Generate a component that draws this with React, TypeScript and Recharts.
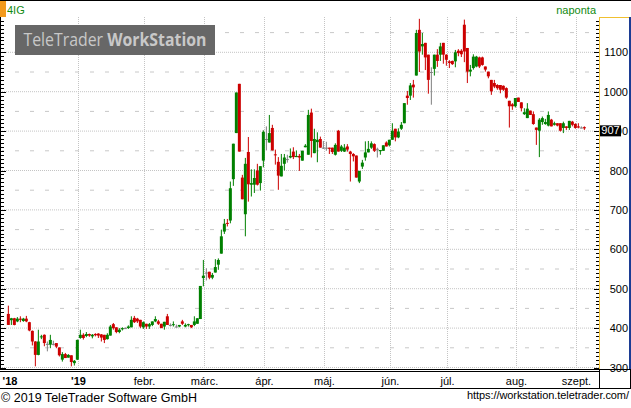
import React from 'react'
import { ComposedChart, Bar, XAxis, YAxis, CartesianGrid } from 'recharts'

// daily OHLC, 4iG, late Nov 2018 .. early Sep 2019
const opens = [
  436, 420, 425, 417, 424, 418, 424, 415, 393, 366, 332, 377, 383, 360, 358, 360, 362, 351, 320, 334,
  325, 331, 311, 320, 375, 383, 380, 385, 379, 385, 386, 384, 383, 372, 381, 410, 402, 390, 397, 400,
  400, 402, 426, 424, 421, 402, 411, 404, 408, 417, 417, 411, 404, 430, 408, 408, 404, 404, 417, 404,
  408, 408, 408, 411, 423, 527, 541, 543, 528, 541, 561, 589, 645, 667, 673, 778, 895, 1020, 782, 689,
  847, 764, 764, 800, 768, 825, 880, 871, 908, 841, 822, 785, 817, 829, 833, 848, 834, 837, 825, 859,
  840, 947, 844, 872, 880, 858, 858, 858, 858, 840, 901, 850, 848, 861, 848, 842, 838, 772, 810, 833,
  846, 858, 867, 855, 849, 850, 871, 864, 878, 906, 884, 906, 920, 990, 990, 1018, 1041, 1157, 1115, 1124,
  1094, 1050, 1058, 1094, 1094, 1124, 1094, 1077, 1078, 1077, 1104, 1104, 1170, 1111, 1051, 1060, 1064, 1087, 1087, 1064,
  1051, 1030, 1022, 1017, 1017, 1015, 1009, 977, 968, 963, 985, 973, 943, 933, 952, 943, 909, 901, 923, 918,
  914, 929, 916, 920, 920, 908, 912, 908, 924, 918, 912, 909, 910,
]
const highs = [
  457, 426, 426, 428, 430, 426, 431, 416, 394, 367, 396, 383, 384, 366, 383, 368, 362, 351, 339, 337,
  334, 331, 319, 371, 396, 387, 390, 386, 385, 387, 387, 385, 383, 387, 408, 413, 402, 400, 402, 402,
  407, 430, 431, 426, 421, 417, 411, 413, 417, 430, 421, 411, 416, 436, 412, 417, 409, 408, 421, 412,
  411, 408, 430, 425, 507, 573, 552, 543, 540, 575, 577, 650, 677, 677, 772, 868, 998, 1020, 789, 832,
  885, 803, 803, 817, 811, 902, 912, 941, 916, 853, 834, 842, 842, 840, 856, 859, 851, 842, 850, 867,
  954, 957, 906, 897, 886, 875, 873, 858, 858, 869, 903, 865, 867, 867, 850, 844, 838, 799, 827, 874,
  875, 874, 869, 858, 852, 864, 874, 878, 920, 906, 907, 923, 971, 1002, 1022, 1030, 1157, 1185, 1149, 1124,
  1094, 1062, 1094, 1108, 1124, 1124, 1095, 1080, 1079, 1106, 1108, 1108, 1183, 1111, 1068, 1095, 1091, 1089, 1089, 1064,
  1051, 1030, 1030, 1019, 1017, 1016, 1011, 977, 971, 984, 985, 973, 958, 971, 952, 950, 909, 933, 937, 931,
  950, 931, 924, 920, 920, 924, 912, 926, 926, 920, 920, 912, 912,
]
const lows = [
  408, 408, 407, 415, 415, 416, 415, 392, 356, 303, 331, 372, 354, 341, 349, 356, 349, 328, 315, 324,
  325, 303, 305, 319, 373, 371, 377, 378, 374, 379, 375, 366, 362, 371, 381, 396, 387, 387, 394, 398,
  398, 402, 413, 413, 400, 398, 398, 398, 405, 415, 408, 400, 396, 408, 404, 404, 401, 402, 408, 402,
  404, 400, 405, 411, 423, 506, 521, 524, 524, 541, 548, 589, 639, 658, 666, 761, 895, 848, 727, 633,
  721, 734, 743, 762, 749, 808, 851, 871, 851, 815, 751, 785, 800, 820, 831, 829, 834, 799, 825, 859,
  840, 833, 844, 821, 858, 855, 850, 842, 842, 838, 848, 847, 847, 848, 772, 823, 782, 768, 804, 825,
  846, 855, 847, 833, 840, 850, 861, 861, 878, 874, 882, 903, 920, 967, 979, 985, 1041, 1050, 1094, 1055,
  995, 967, 1041, 1063, 1078, 1071, 1066, 1060, 1068, 1062, 1090, 1088, 1075, 1022, 1039, 1056, 1062, 1060, 1066, 1051,
  1034, 992, 1009, 1005, 996, 1002, 982, 909, 954, 960, 974, 950, 941, 933, 941, 916, 865, 834, 916, 916,
  912, 912, 914, 912, 899, 895, 903, 903, 912, 906, 907, 907, 903,
]
const closes = [
  408, 425, 408, 424, 421, 424, 417, 394, 366, 332, 366, 379, 362, 360, 370, 360, 353, 331, 334, 324,
  332, 314, 317, 370, 383, 375, 385, 381, 383, 382, 381, 376, 370, 383, 404, 400, 390, 396, 400, 400,
  404, 421, 415, 417, 404, 415, 404, 410, 417, 423, 411, 400, 416, 408, 408, 410, 404, 408, 411, 408,
  410, 402, 417, 425, 507, 533, 541, 528, 535, 555, 573, 633, 665, 665, 755, 868, 998, 848, 727, 817,
  765, 768, 781, 764, 811, 898, 880, 895, 851, 839, 787, 812, 833, 829, 837, 834, 837, 833, 850, 863,
  941, 875, 880, 878, 858, 858, 858, 855, 847, 865, 848, 861, 858, 853, 842, 836, 782, 799, 820, 846,
  855, 869, 850, 855, 852, 864, 861, 878, 901, 884, 899, 916, 971, 984, 1016, 1011, 1149, 1102, 1121, 1087,
  1030, 1050, 1094, 1078, 1115, 1094, 1081, 1073, 1070, 1100, 1098, 1095, 1102, 1051, 1056, 1089, 1089, 1064, 1068, 1056,
  1039, 1001, 1013, 1009, 1005, 1005, 985, 963, 963, 984, 974, 958, 948, 957, 941, 918, 903, 929, 933, 923,
  941, 912, 920, 914, 901, 920, 908, 926, 916, 908, 909, 909, 907,
]

// x axis: month boundaries (in trading-day index units) and their labels
const monthTicks = [0.67, 23.33, 45.33, 65.33, 85.33, 105.33, 127.33, 146.33, 169.33, 189.33]
const monthLabels = ["'18", "'19", 'febr.', 'márc.', 'ápr.', 'máj.', 'jún.', 'júl.', 'aug.', 'szept.']
const monthGrid = [23.33, 45.33, 65.33, 85.33, 105.33, 127.33, 146.33, 169.33, 189.33]

// y axis
const priceLabels = [300, 400, 500, 600, 700, 800, 900, 1000, 1100]
const halfLevels = [350, 450, 550, 650, 750, 850, 950, 1050, 1150]
const Y_DOMAIN = [296.2, 1189.6]
const X_DOMAIN = [-2.1667, 196.8333]

const UP = '#008000'
const DOWN = '#cc0000'
const FLAT = '#808080'
const FONT = '"Liberation Sans", Arial, sans-serif'

const lastClose = closes[closes.length - 1]

const yTicks: number[] = []
for (let v = 300; v <= 1180; v += 10) yTicks.push(v)
yTicks.push(lastClose)

const data = opens.map((o, i) => ({
  idx: i,
  open: o,
  high: highs[i],
  low: lows[i],
  close: closes[i],
  range: [lows[i], highs[i]],
}))

function Candle(props: any) {
  const { x, y, width, height, payload } = props
  if (x == null || payload == null) return null
  const top = Math.min(y, y + height)
  const bottom = Math.max(y, y + height)
  const { open, close, high, low } = payload
  const k = high > low ? (bottom - top) / (high - low) : 0
  const py = (v: number) => top + (high - v) * k
  const cx = x + width / 2
  const color = close > open ? UP : close < open ? DOWN : FLAT
  const bt = py(Math.max(open, close))
  const bb = py(Math.min(open, close))
  return (
    <g>
      <rect x={cx - 0.5} y={top} width={1} height={Math.max(bottom - top, 1)} fill={color} />
      <rect x={cx - 1.5} y={bt} width={3} height={Math.max(bb - bt, 1)} fill={color} />
    </g>
  )
}

function PriceTick(props: any) {
  const { y, payload } = props
  const v = payload.value
  if (v === lastClose) {
    return (
      <g>
        <rect x={600} y={y - 3} width={21} height={11} fill="#000" />
        <text x={610.5} y={y + 6} textAnchor="middle" fontFamily={FONT} fontSize={11} fill="#fff">
          {v}
        </text>
      </g>
    )
  }
  const major = v % 100 === 0
  const len = major ? 6 : 4
  return (
    <g>
      <rect x={0} y={Math.round(y)} width={len} height={1} fill="#000" />
      <rect x={600 - len} y={Math.round(y)} width={len} height={1} fill="#000" />
      {major && (
        <text x={628} y={y + 4} textAnchor="end" fontFamily={FONT} fontSize={11} fill="#000">
          {v}
        </text>
      )}
    </g>
  )
}

function MonthTick(props: any) {
  const { x, index } = props
  const label = monthLabels[index]
  const isYear = label.startsWith("'")
  return (
    <text
      x={index === 0 ? 10 : x}
      y={385}
      textAnchor="middle"
      fontFamily={FONT}
      fontSize={11}
      fontWeight={isYear ? 'bold' : 'normal'}
      fill="#000"
    >
      {label}
    </text>
  )
}

export default function App() {
  return (
    <div style={{ position: 'absolute', left: 0, top: 0, width: 631, height: 408, background: '#fff' }}>
      <ComposedChart width={631} height={408} data={data} margin={{ top: 17, right: 0, bottom: 20, left: 2 }}>
        <CartesianGrid
          horizontal
          vertical={false}
          horizontalValues={halfLevels}
          stroke="#c8c8c8"
          strokeDasharray="4 11"
          strokeDashoffset={2}
        />
        <CartesianGrid
          horizontal
          vertical
          horizontalValues={priceLabels}
          verticalValues={monthGrid}
          stroke="#c4c4c4"
          strokeDasharray="1 1"
        />
        <XAxis
          dataKey="idx"
          type="number"
          domain={X_DOMAIN}
          allowDataOverflow
          ticks={monthTicks}
          interval={0}
          tick={<MonthTick />}
          axisLine={false}
          tickLine={false}
          height={19}
        />
        <YAxis
          orientation="right"
          domain={Y_DOMAIN}
          allowDataOverflow
          ticks={yTicks}
          interval={0}
          tick={<PriceTick />}
          axisLine={false}
          tickLine={false}
          width={32}
        />
        <Bar dataKey="range" barSize={3} shape={<Candle />} isAnimationActive={false} />
      </ComposedChart>

      <svg
        width={631}
        height={408}
        style={{ position: 'absolute', left: 0, top: 0, pointerEvents: 'none' }}
        shapeRendering="crispEdges"
      >
        <rect x={0} y={0} width={631} height={1} fill="#000" />
        <rect x={0} y={1} width={6} height={16} fill="#f39a1e" />
        <text x={7} y={14} fontFamily={FONT} fontSize={11} fill="#118a11" shapeRendering="auto">4IG</text>
        <text x={596} y={14} textAnchor="end" fontFamily={FONT} fontSize={11} fill="#118a11">naponta</text>

        <rect x={15} y={25} width={200} height={30} fill="#676767" />
        <text x={23.5} y={45.7} fontFamily='"Open Sans", sans-serif' fontSize={17.5} fill="#c8c8c8"
          textLength={183} lengthAdjust="spacingAndGlyphs">
          <tspan>TeleTrader </tspan>
          <tspan fontWeight="bold">WorkStation</tspan>
        </text>

        <rect x={0} y={17} width={1} height={352} fill="#000" />
        <rect x={599} y={17} width={1} height={352} fill="#f0c030" />
        <rect x={599} y={17} width={32} height={1} fill="#f0c030" />
        <rect x={629} y={17} width={2} height={352} fill="#1c3c94" />

        <rect x={0} y={369} width={631} height={1} fill="#000" />
        <rect x={0} y={371} width={599} height={1} fill="#000" />
        <rect x={0} y={388} width={631} height={1} fill="#000" />
        <rect x={599} y={369} width={1} height={20} fill="#000" />
        <rect x={630} y={369} width={1} height={20} fill="#000" />

        <text x={1} y={402} fontFamily={FONT} fontSize={12.5} fill="#000" textLength={196}>
          © 2019 TeleTrader Software GmbH
        </text>
        <text x={629} y={399} textAnchor="end" fontFamily={FONT} fontSize={11} fill="#000" textLength={162}>
          https://workstation.teletrader.com/
        </text>
      </svg>
    </div>
  )
}
